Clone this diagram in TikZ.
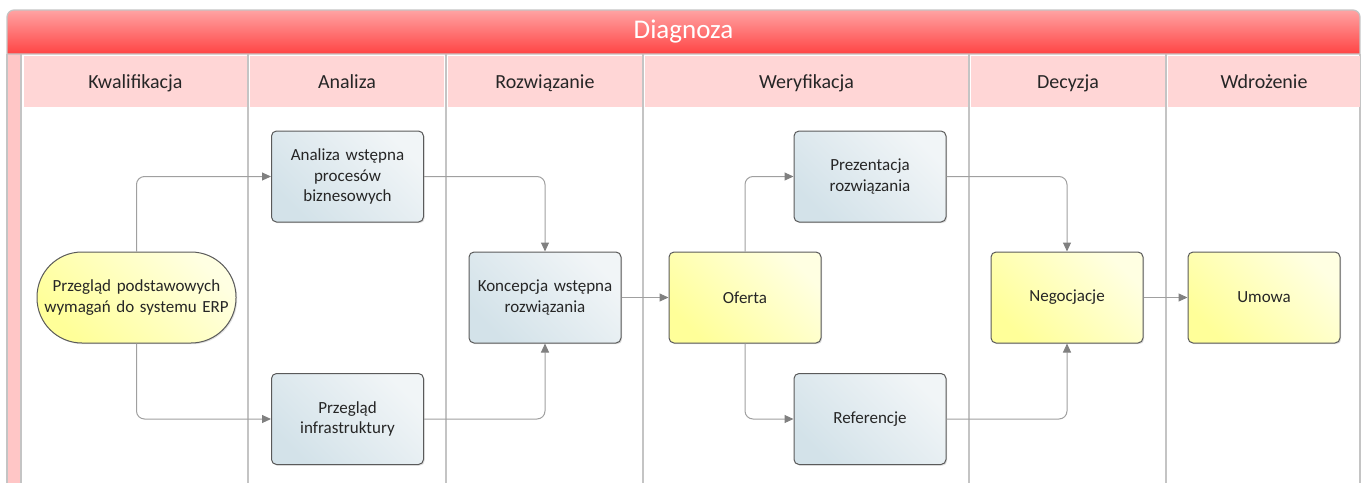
\documentclass[tikz,border=0pt]{standalone}
\usepackage{fontspec}
\setmainfont{Carlito}
\usetikzlibrary{shadows,arrows.meta}
\definecolor{lanegray}{HTML}{C4C4C4}
\definecolor{bartop}{HTML}{FFA3A3}
\definecolor{barbot}{HTML}{FF4444}
\definecolor{headfill}{HTML}{FFD6D6}
\definecolor{stripfill}{HTML}{FFC6C6}
\definecolor{bluetop}{HTML}{D3E2E9}
\definecolor{bluebot}{HTML}{F1F5F7}
\definecolor{yeltop}{HTML}{FFFF99}
\definecolor{yelbot}{HTML}{FFFFE2}
\definecolor{boxborder}{HTML}{5A5A5A}
\definecolor{conn}{HTML}{A0A0A0}
\definecolor{tipcol}{HTML}{808080}
\definecolor{txt}{HTML}{262626}
\begin{document}
\begin{tikzpicture}[x=1pt,y=-1pt,
  lanehead/.style={fill=headfill, minimum height=51pt, inner sep=0pt, text=txt, text depth=0pt, font=\fontsize{20}{24}\selectfont},
  laneline/.style={draw=lanegray, line width=1.2pt},
  boxbase/.style={draw=boxborder, line width=1pt, rounded corners=5pt, minimum width=152pt, minimum height=91pt,
     inner sep=2pt, text width=148pt, align=center, text=txt, font=\fontsize{17}{20.5}\selectfont,
     drop shadow={shadow xshift=1.2pt, shadow yshift=-1.2pt, opacity=0.25}},
  bluebox/.style={boxbase, left color=bluetop, right color=bluebot, shading angle=135},
  yelbox/.style={boxbase, left color=yeltop, right color=yelbot, shading angle=135},
  startbox/.style={yelbox, rounded corners=45pt, minimum width=199pt, text width=195pt},
  flow/.style={draw=conn, line width=1pt, rounded corners=8pt, -{Triangle[length=9pt,width=8pt,fill=tipcol,color=tipcol]}}
]
\useasboundingbox (0,0) rectangle (1361,483);
% pool frame and left strip
\fill[stripfill] (7,54) rectangle (21,483);
\draw[laneline] (7,54) -- (7,483);
\draw[laneline] (21,54) -- (21,483);
\draw[laneline] (1360,54) -- (1360,483);
% lane headers
\node[lanehead, minimum width=223pt] (h1) at (135.5,81.5) {Kwalifikacja};
\node[lanehead, minimum width=194pt] (h2) at (347,81.5) {Analiza};
\node[lanehead, minimum width=194pt] (h3) at (545,81.5) {Rozwiązanie};
\node[lanehead, minimum width=323pt] (h4) at (806.5,81.5) {Weryfikacja};
\node[lanehead, minimum width=194pt] (h5) at (1068,81.5) {Decyzja};
\node[lanehead, minimum width=192pt] (h6) at (1264,81.5) {Wdrożenie};
% lane dividers
\foreach \xx in {248,446,643,969,1166} {\draw[laneline] (\xx,54) -- (\xx,483);}
% title bar
\draw[draw=lanegray, line width=1.2pt, top color=bartop, bottom color=barbot]
  (7,54) [rounded corners=7pt] -- (7,10) -- (1360,10) [sharp corners] -- (1360,54) -- cycle;
\node[text=white, font=\fontsize{27}{32}\selectfont] (title) at (683.5,32) {Diagnoza};
% nodes
\node[startbox] (start) at (136.5,297.5) {Przegląd podstawowych\\wymagań do systemu ERP};
\node[bluebox] (anal) at (347.5,176.5) {Analiza wstępna\\procesów\\biznesowych};
\node[bluebox] (infra) at (347.5,419) {Przegląd\\infrastruktury};
\node[bluebox] (konc) at (545,297.5) {Koncepcja wstępna\\rozwiązania};
\node[yelbox] (oferta) at (745,297.5) {Oferta};
\node[bluebox] (prez) at (870,176.5) {Prezentacja\\rozwiązania};
\node[bluebox] (ref) at (870,419) {Referencje};
\node[yelbox] (neg) at (1067,297.5) {Negocjacje};
\node[yelbox] (umowa) at (1264,297.5) {Umowa};
% connectors
\draw[flow] (start.north) |- (anal.west);
\draw[flow] (start.south) |- (infra.west);
\draw[flow] (anal.east) -| (konc.north);
\draw[flow] (infra.east) -| (konc.south);
\draw[flow] (konc.east) -- (oferta.west);
\draw[flow] (oferta.north) |- (prez.west);
\draw[flow] (oferta.south) |- (ref.west);
\draw[flow] (prez.east) -| (neg.north);
\draw[flow] (ref.east) -| (neg.south);
\draw[flow] (neg.east) -- (umowa.west);
\end{tikzpicture}
\end{document}
